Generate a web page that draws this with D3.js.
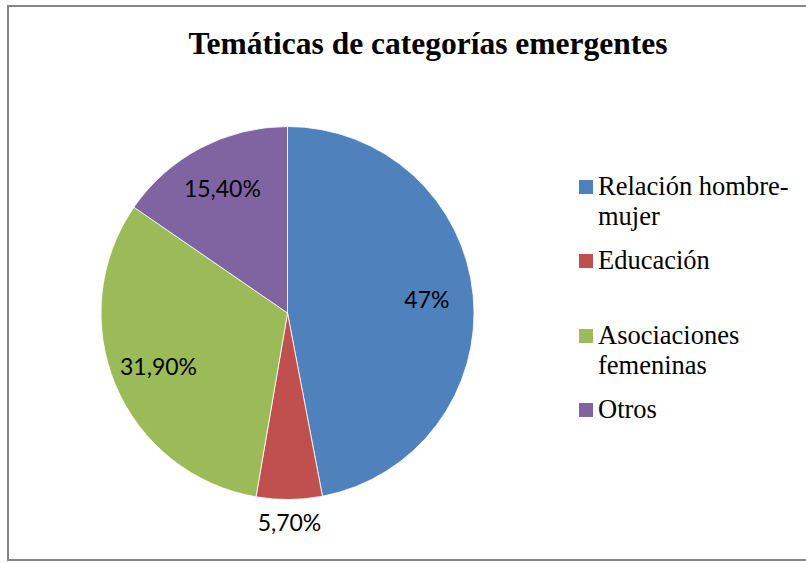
<!DOCTYPE html>
<html>
<head>
<meta charset="utf-8">
<script src="https://cdn.jsdelivr.net/npm/d3@7/dist/d3.min.js"></script>
<style>
  html, body { margin: 0; padding: 0; background: #fff; }
  svg { display: block; }
</style>
</head>
<body>
<svg id="chart" width="806" height="563"></svg>
<script>
const categories = ["Relación hombre-mujer", "Educación", "Asociaciones femeninas", "Otros"];
const values = [47, 5.7, 31.9, 15.4];
const valueLabels = ["47%", "5,70%", "31,90%", "15,40%"];
const legendLines = [["Relación hombre-", "mujer"], ["Educación"], ["Asociaciones", "femeninas"], ["Otros"]];
const colors = ["#4F81BD", "#C0504D", "#9BBB59", "#8064A2"];
const title = "Temáticas de categorías emergentes";

const svg = d3.select("#chart");
const serif = "'Liberation Serif', 'Times New Roman', serif";

// frame
svg.append("rect")
  .attr("x", 8).attr("y", 6)
  .attr("width", 820).attr("height", 554)
  .attr("fill", "#fff")
  .attr("stroke", "#868686")
  .attr("stroke-width", 2);

// title
svg.append("text")
  .attr("x", 428).attr("y", 54)
  .attr("text-anchor", "middle")
  .attr("font-family", serif)
  .attr("font-weight", "bold")
  .attr("font-size", 31.5)
  .attr("fill", "#000")
  .text(title);

const cx = 287.5, cy = 313, R = 186.5;
const data = categories.map((c, i) => ({ cat: c, value: values[i], label: valueLabels[i], color: colors[i], i }));

const pie = d3.pie().value(d => d.value).sort(null).startAngle(0).endAngle(2 * Math.PI);
const arcs = pie(data);
const arc = d3.arc().innerRadius(0).outerRadius(R);
const labelArcIn = d3.arc().innerRadius(140).outerRadius(140);
const labelArcOut = d3.arc().innerRadius(R + 23).outerRadius(R + 23);

const g = svg.append("g").attr("transform", `translate(${cx},${cy})`);
g.selectAll("path")
  .data(arcs)
  .join("path")
  .attr("d", arc)
  .attr("fill", d => d.data.color)
  .attr("stroke", "#fff")
  .attr("stroke-width", 0.8);

g.selectAll("text.lbl")
  .data(arcs)
  .join("text")
  .attr("class", "lbl")
  .attr("transform", d => {
    const small = (d.endAngle - d.startAngle) < 0.5;
    const c = (small ? labelArcOut : labelArcIn).centroid(d);
    return `translate(${c[0]},${c[1]})`;
  })
  .attr("text-anchor", "middle")
  .attr("dy", "0.35em")
  .attr("font-family", "Lato, 'Open Sans', sans-serif")
  .attr("font-size", 23)
  .attr("fill", "#000")
  .text(d => d.data.label);

// legend
const legendX = 579, legendSq = 14;
const legendTop = [180, 254, 329, 403];
const leg = svg.append("g");
data.forEach((d, i) => {
  const y0 = legendTop[i];
  leg.append("rect")
    .attr("x", legendX).attr("y", y0)
    .attr("width", legendSq).attr("height", legendSq)
    .attr("fill", d.color);
  legendLines[i].forEach((line, j) => {
    leg.append("text")
      .attr("x", legendX + 19)
      .attr("y", y0 + 15 + j * 29.5)
      .attr("font-family", serif)
      .attr("font-size", 26.5)
      .attr("fill", "#000")
      .text(line);
  });
});
</script>
</body>
</html>
